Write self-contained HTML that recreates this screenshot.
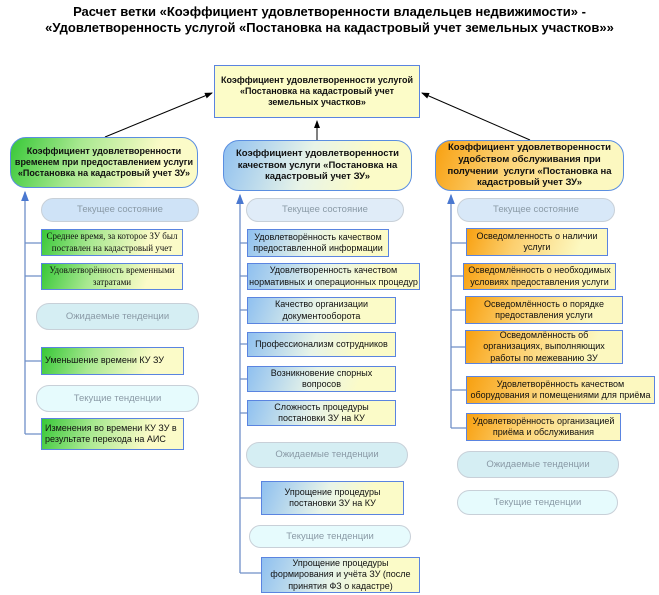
<!DOCTYPE html>
<html><head><meta charset="utf-8"><style>
body{margin:0;width:659px;height:595px;background:#fff;position:relative;overflow:hidden;font-family:"Liberation Sans",sans-serif}
.a{position:absolute;box-sizing:border-box;display:flex;align-items:center;justify-content:center;text-align:center;line-height:1.25;color:#111;white-space:nowrap}
.t{font-weight:bold;font-size:13px;left:0;width:659px;text-align:center;position:absolute;color:#000}
.h{border:1.5px solid #5a8ee0;border-radius:16px;font-weight:bold;font-size:9.5px}
.p{border:1px solid #c8d0d8;border-radius:13px;font-size:9.5px;color:#8a9aa6}
.b{border:1.5px solid #5a84e0;font-size:9px}
.g{background:linear-gradient(110deg,#38c838 0%,#a8e890 35%,#fbfbc8 75%)}
.bl{background:linear-gradient(110deg,#8fc0f0 0%,#e8f4e8 45%,#fbfbc8 75%)}
.o{background:linear-gradient(110deg,#f8a010 0%,#fcd070 35%,#fcf8c0 80%)}
.s{font-family:"Liberation Serif",serif}
</style></head><body>
<div class="t" style="top:4px">Расчет ветки «Коэффициент удовлетворенности владельцев недвижимости» -</div>
<div class="t" style="top:20px">«Удовлетворенность услугой «Постановка на кадастровый учет земельных участков»»</div>
<svg width="659" height="595" style="position:absolute;left:0;top:0">
<defs><marker id="k" markerWidth="8" markerHeight="8" refX="7" refY="4" orient="auto"><path d="M0,1 L8,4 L0,7z" fill="#000"/></marker>
<marker id="u" markerWidth="8" markerHeight="8" refX="7" refY="4" orient="auto"><path d="M0,1 L8,4 L0,7z" fill="#4a78d0"/></marker></defs>
<g stroke="#000" stroke-width="1"><line x1="105" y1="137" x2="212" y2="93" marker-end="url(#k)"/><line x1="530" y1="140" x2="422" y2="93" marker-end="url(#k)"/><line x1="317" y1="140" x2="317" y2="121" marker-end="url(#k)"/></g>
<g stroke="#6f8fc8" stroke-width="1.3" fill="none">
<line x1="25" y1="434" x2="25" y2="192" marker-end="url(#u)"/>
<path d="M25 243H41M25 276H41M25 361H41M25 434H41"/>
<line x1="240" y1="573" x2="240" y2="195" marker-end="url(#u)"/>
<path d="M240 243H247M240 276H247M240 310H247M240 344H247M240 379H247M240 413H247M240 498H261M240 573H261"/>
<line x1="451" y1="428" x2="451" y2="195" marker-end="url(#u)"/>
<path d="M451 243H466M451 276H463M451 310H465M451 347H465M451 390H466M451 428H466"/>
</g></svg>
<div class="a b" style="left:214px;top:65px;width:206px;height:53px;background:#fcfcc8;font-weight:bold;font-size:9px">Коэффициент удовлетворенности услугой<br>«Постановка на кадастровый учет<br>земельных участков»</div>
<div class="a h g" style="left:10px;top:137px;width:188px;height:51px;font-size:9px">Коэффициент удовлетворенности<br>временем при предоставлением услуги<br>«Постановка на кадастровый учет ЗУ»</div>
<div class="a h bl" style="left:223px;top:140px;width:189px;height:51px">Коэффициент удовлетворенности<br>качеством услуги «Постановка на<br>кадастровый учет ЗУ»</div>
<div class="a h o" style="left:435px;top:140px;width:189px;height:51px">Коэффициент удовлетворенности<br>удобством обслуживания при<br>получении&nbsp; услуги «Постановка на<br>кадастровый учет ЗУ»</div>

<div class="a p" style="left:41px;top:198px;width:158px;height:24px;background:#cfe3f7">Текущее состояние</div>
<div class="a b g s" style="left:41px;top:229px;width:142px;height:27px;font-size:9px">Среднее время, за которое ЗУ был<br>поставлен на кадастровый учет</div>
<div class="a b g s" style="left:41px;top:263px;width:142px;height:27px;font-size:9px">Удовлетворённость временными<br>затратами</div>
<div class="a p" style="left:36px;top:303px;width:163px;height:27px;background:#d5eef3">Ожидаемые тенденции</div>
<div class="a b g" style="left:41px;top:347px;width:143px;height:28px;justify-content:flex-start;padding-left:3px">Уменьшение времени КУ ЗУ</div>
<div class="a p" style="left:36px;top:385px;width:163px;height:27px;background:#e6fbfd">Текущие тенденции</div>
<div class="a b g" style="left:41px;top:418px;width:143px;height:32px;text-align:left;justify-content:flex-start;padding-left:3px">Изменения во времени КУ ЗУ в<br>результате перехода на АИС</div>

<div class="a p" style="left:246px;top:198px;width:158px;height:24px;background:#e0ecf8">Текущее состояние</div>
<div class="a b bl" style="left:247px;top:229px;width:142px;height:28px">Удовлетворённость качеством<br>предоставленной информации</div>
<div class="a b bl" style="left:247px;top:263px;width:173px;height:27px">Удовлетворенность качеством<br>нормативных и операционных процедур</div>
<div class="a b bl" style="left:247px;top:297px;width:149px;height:27px">Качество организации<br>документооборота</div>
<div class="a b bl" style="left:247px;top:332px;width:149px;height:25px">Профессионализм сотрудников</div>
<div class="a b bl" style="left:247px;top:366px;width:149px;height:26px">Возникновение спорных<br>вопросов</div>
<div class="a b bl" style="left:247px;top:400px;width:149px;height:26px">Сложность процедуры<br>постановки ЗУ на КУ</div>
<div class="a p" style="left:246px;top:442px;width:162px;height:26px;background:#d5eef3">Ожидаемые тенденции</div>
<div class="a b bl" style="left:261px;top:481px;width:143px;height:34px">Упрощение процедуры<br>постановки ЗУ на КУ</div>
<div class="a p" style="left:249px;top:525px;width:162px;height:23px;background:#e6fbfd">Текущие тенденции</div>
<div class="a b bl" style="left:261px;top:557px;width:159px;height:36px">Упрощение процедуры<br>формирования и учёта ЗУ (после<br>принятия ФЗ о кадастре)</div>

<div class="a p" style="left:457px;top:198px;width:158px;height:24px;background:#d8e8f8">Текущее состояние</div>
<div class="a b o" style="left:466px;top:228px;width:142px;height:28px">Осведомленность о наличии<br>услуги</div>
<div class="a b o" style="left:463px;top:263px;width:153px;height:27px">Осведомлённость о необходимых<br>условиях предоставления услуги</div>
<div class="a b o" style="left:465px;top:296px;width:158px;height:28px">Осведомлённость о порядке<br>предоставления услуги</div>
<div class="a b o" style="left:465px;top:330px;width:158px;height:34px">Осведомлённость об<br>организациях, выполняющих<br>работы по межеванию ЗУ</div>
<div class="a b o" style="left:466px;top:376px;width:189px;height:28px">Удовлетворённость качеством<br>оборудования и помещениями для приёма</div>
<div class="a b o" style="left:466px;top:413px;width:155px;height:28px">Удовлетворённость организацией<br>приёма и обслуживания</div>
<div class="a p" style="left:457px;top:451px;width:162px;height:27px;background:#d5eef3">Ожидаемые тенденции</div>
<div class="a p" style="left:457px;top:490px;width:161px;height:25px;background:#e6fbfd">Текущие тенденции</div>
</body></html>
